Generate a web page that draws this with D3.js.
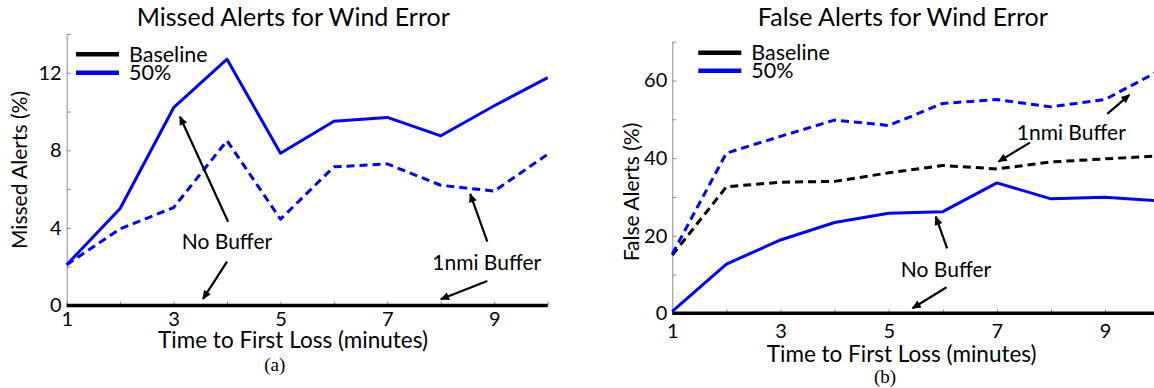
<!DOCTYPE html>
<html>
<head>
<meta charset="utf-8">
<script src="https://cdn.jsdelivr.net/npm/d3@7"></script>
<style>
  html, body { margin: 0; padding: 0; background: #fff; }
  svg { display: block; font-family: Lato, "Noto Sans", sans-serif; }
</style>
</head>
<body>
<svg id="chart" width="1154" height="388"></svg>
<script>
// ── Data ──────────────────────────────────────────────────────────────────
const minutes     = [1, 2, 3, 4, 5, 6, 7, 8, 9, 10];
const xTickLabels = [1, 3, 5, 7, 9];
const legendNames = ['Baseline', '50%'];

// (a) missed alerts (%)
const missedNoBuffer50  = [2.1, 5.0, 10.2, 12.7, 7.85, 9.5, 9.7, 8.75, 10.3, 11.75];
const missedBuffer50    = [2.1, 3.95, 5.05, 8.5, 4.45, 7.15, 7.3, 6.2, 5.9, 7.8];
const missedBaseline    = [0, 0, 0, 0, 0, 0, 0, 0, 0, 0];
const missedYTicks      = [0, 4, 8, 12];

// (b) false alerts (%)
const falseNoBuffer50   = [0.5, 12.7, 18.9, 23.4, 25.8, 26.2, 33.6, 29.5, 29.9, 29.0];
const falseBuffer50     = [15.3, 41.3, 45.6, 49.8, 48.4, 54.1, 55.1, 53.2, 55.1, 62.5];
const falseBufferBase   = [15.0, 32.6, 33.8, 34.0, 36.2, 38.1, 37.2, 39.0, 39.8, 40.6];
const falseBaseline     = [0, 0, 0, 0, 0, 0, 0, 0, 0, 0];
const falseYTicks       = [0, 20, 40, 60];

const BLUE  = '#0000ff';
const BLACK = '#000000';
const AXIS  = '#8c8c8c';

const svg = d3.select('#chart');

// arrow head
svg.append('defs').append('marker')
  .attr('id', 'arr').attr('viewBox', '0 0 10 10')
  .attr('refX', 9).attr('refY', 5)
  .attr('markerUnits', 'userSpaceOnUse')
  .attr('markerWidth', 10).attr('markerHeight', 9)
  .attr('orient', 'auto')
  .append('path').attr('d', 'M0 0.5L10 5L0 9.5Z').attr('fill', BLACK);

// ── Panel ─────────────────────────────────────────────────────────────────
function drawPanel(p) {
  const g = svg.append('g');
  const x = d3.scaleLinear().domain([1, 10]).range(p.xRange);
  const y = d3.scaleLinear().domain([0, p.yMax]).range(p.yRange);
  const minor = d3.range(0, p.yMax + 0.001, p.yStep);

  const yAx = g.append('g')
    .attr('transform', `translate(${p.xRange[0]},0)`)
    .call(d3.axisLeft(y).tickValues(minor)
      .tickSizeInner(-4).tickSizeOuter(0).tickPadding(5)
      .tickFormat(d => p.yLabels.includes(d) ? d : ''));

  const xAx = g.append('g')
    .attr('transform', `translate(0,${p.yRange[0]})`)
    .call(d3.axisBottom(x).tickValues(minutes)
      .tickSizeInner(-4).tickSizeOuter(0).tickPadding(p.xPad)
      .tickFormat(d => xTickLabels.includes(d) ? d : ''));

  [yAx, xAx].forEach(a => {
    a.select('.domain').attr('stroke', AXIS);
    a.selectAll('.tick line').attr('stroke', AXIS);
    a.selectAll('.tick text').attr('fill', BLACK)
      .attr('font-size', 20).attr('font-family', 'Lato, sans-serif');
  });

  const line = d3.line().x((d, i) => x(minutes[i])).y(d => y(d));

  p.series.forEach(s => {
    g.append('path').datum(s.values)
      .attr('d', line)
      .attr('fill', 'none')
      .attr('stroke', s.color)
      .attr('stroke-width', s.width || 3)
      .attr('stroke-dasharray', s.dashed ? '8 5' : null)
      .attr('stroke-linejoin', 'round');
  });

  // legend
  legendNames.forEach((name, i) => {
    const ly = p.legend.y + i * p.legend.gap;
    g.append('line')
      .attr('x1', p.legend.x).attr('x2', p.legend.x + 43)
      .attr('y1', ly).attr('y2', ly)
      .attr('stroke', i === 0 ? BLACK : BLUE).attr('stroke-width', 4.5);
    g.append('text')
      .attr('x', p.legend.x + 53).attr('y', ly)
      .attr('dy', '0.35em').attr('font-size', 21.5)
      .text(name);
  });

  // annotations
  p.notes.forEach(n => {
    g.append('text')
      .attr('x', x(n.x)).attr('y', y(n.y))
      .attr('dy', '0.35em').attr('text-anchor', 'middle')
      .attr('font-size', 21)
      .text(n.text);
  });
  p.arrows.forEach(a => {
    g.append('line')
      .attr('x1', x(a.from[0])).attr('y1', y(a.from[1]))
      .attr('x2', x(a.to[0])).attr('y2', y(a.to[1]))
      .attr('stroke', BLACK).attr('stroke-width', 2.2)
      .attr('marker-end', 'url(#arr)');
  });

  // titles
  g.append('text')
    .attr('x', p.title.x).attr('y', p.title.y)
    .attr('dy', '0.35em').attr('text-anchor', 'middle')
    .attr('font-size', 25).text(p.title.text);

  g.append('text')
    .attr('x', p.xLabel.x).attr('y', p.xLabel.y)
    .attr('dy', '0.35em').attr('text-anchor', 'middle')
    .attr('font-size', 22.5).text('Time to First Loss (minutes)');

  g.append('text')
    .attr('transform', `translate(${p.yLabel.x},${p.yLabel.y}) rotate(-90)`)
    .attr('dy', '0.35em').attr('text-anchor', 'middle')
    .attr('font-size', 21).text(p.yLabel.text);

  g.append('text')
    .attr('x', p.sub.x).attr('y', p.sub.y)
    .attr('dy', '0.35em').attr('text-anchor', 'middle')
    .attr('font-family', '"Liberation Serif", serif')
    .attr('font-size', 19).text(p.sub.text);
}

drawPanel({
  xRange: [66.7, 547.7], yRange: [305.5, 34], yMax: 14, yStep: 2,
  yLabels: missedYTicks, xPad: 6,
  series: [
    { values: missedBuffer50,   color: BLUE,  dashed: true },
    { values: missedNoBuffer50, color: BLUE },
    { values: missedBaseline,   color: BLACK, width: 3.6 }
  ],
  legend: { x: 76, y: 54.3, gap: 18.4 },
  notes: [
    { text: 'No Buffer',   x: 4.0,  y: 3.29 },
    { text: '1nmi Buffer', x: 8.86, y: 2.2 }
  ],
  arrows: [
    { from: [4.02, 4.32], to: [3.12, 9.73] },
    { from: [4.0, 2.26],  to: [3.55, 0.34] },
    { from: [8.87, 3.29], to: [8.55, 5.75] },
    { from: [8.87, 1.26], to: [8.0, 0.32] }
  ],
  title:  { text: 'Missed Alerts for Wind Error', x: 293.3, y: 17 },
  xLabel: { x: 293, y: 340 },
  yLabel: { text: 'Missed Alerts (%)', x: 20, y: 170 },
  sub:    { text: '(a)', x: 274.7, y: 364 }
});

drawPanel({
  xRange: [672.3, 1159.2], yRange: [313.3, 41.7], yMax: 70, yStep: 10,
  yLabels: falseYTicks, xPad: 11,
  series: [
    { values: falseBufferBase,  color: BLACK, dashed: true },
    { values: falseBuffer50,    color: BLUE,  dashed: true },
    { values: falseNoBuffer50,  color: BLUE },
    { values: falseBaseline,    color: BLACK, width: 3.6 }
  ],
  legend: { x: 698.3, y: 52.7, gap: 18 },
  notes: [
    { text: '1nmi Buffer', x: 8.375, y: 46.5 },
    { text: 'No Buffer',   x: 6.06,  y: 11.3 }
  ],
  arrows: [
    { from: [9.04, 51.4], to: [9.45, 56.3] },
    { from: [7.61, 44.0], to: [7.03, 39.1] },
    { from: [6.08, 16.75], to: [5.87, 24.9] },
    { from: [6.07, 6.7],  to: [5.44, 1.3] }
  ],
  title:  { text: 'False Alerts for Wind Error', x: 902.8, y: 17 },
  xLabel: { x: 901.7, y: 354.5 },
  yLabel: { text: 'False Alerts (%)', x: 632, y: 192 },
  sub:    { text: '(b)', x: 885, y: 376.5 }
});
</script>
</body>
</html>
